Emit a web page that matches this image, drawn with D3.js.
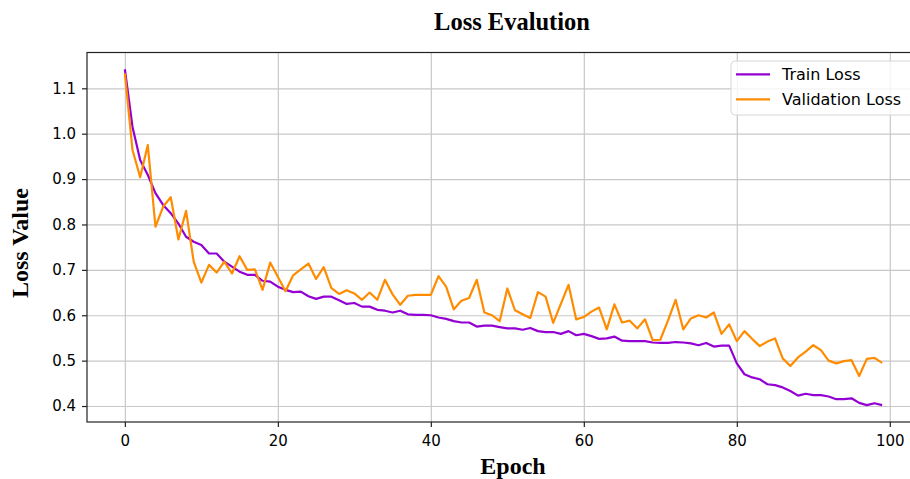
<html>
	<head>
		<title>Loss Evalution</title>
		<style>
			body { margin: 0; background: #fff; }
			svg { display: block; }
			.tick text { font-family: "DejaVu Sans", sans-serif; font-size: 15px; fill: #000; }
			.grid line { stroke: #c8c8c8; stroke-width: 1.2px; }
			.grid path { display: none; }
		</style>
	</head>
	<body>

		<svg id="chart" width="910" height="479"></svg>

		<script src="https://cdn.jsdelivr.net/npm/d3@7"></script>
		<script type="text/javascript">

			// values
			var trainLoss = [
				1.142, 1.015, 0.942, 0.909, 0.869, 0.843, 0.825, 0.802, 0.773, 0.762,
				0.755, 0.736, 0.736, 0.718, 0.707, 0.696, 0.689, 0.689, 0.676, 0.674,
				0.663, 0.656, 0.651, 0.652, 0.642, 0.636, 0.641, 0.641, 0.633, 0.625,
				0.627, 0.619, 0.619, 0.612, 0.610, 0.606, 0.610, 0.602, 0.601, 0.601,
				0.600, 0.595, 0.592, 0.587, 0.584, 0.584, 0.575, 0.577, 0.577, 0.574,
				0.571, 0.571, 0.568, 0.572, 0.565, 0.563, 0.563, 0.559, 0.565, 0.556,
				0.559, 0.554, 0.548, 0.549, 0.553, 0.544, 0.543, 0.543, 0.543, 0.540,
				0.539, 0.539, 0.541, 0.540, 0.538, 0.534, 0.539, 0.531, 0.533, 0.533,
				0.494, 0.470, 0.463, 0.459, 0.448, 0.446, 0.441, 0.433, 0.423, 0.427,
				0.424, 0.424, 0.421, 0.415, 0.415, 0.417, 0.407, 0.402, 0.406, 0.402
			];
			var valLoss = [
				1.133, 0.964, 0.904, 0.975, 0.795, 0.839, 0.860, 0.767, 0.830, 0.718,
				0.672, 0.711, 0.694, 0.718, 0.692, 0.730, 0.700, 0.701, 0.656, 0.716,
				0.685, 0.653, 0.688, 0.701, 0.714, 0.680, 0.706, 0.660, 0.647, 0.655,
				0.648, 0.634, 0.650, 0.634, 0.678, 0.646, 0.623, 0.643, 0.645, 0.645,
				0.645, 0.686, 0.663, 0.613, 0.632, 0.638, 0.678, 0.606, 0.600, 0.587,
				0.659, 0.611, 0.602, 0.594, 0.651, 0.641, 0.583, 0.625, 0.667, 0.591,
				0.596, 0.608, 0.617, 0.569, 0.624, 0.584, 0.588, 0.571, 0.591, 0.545,
				0.546, 0.588, 0.634, 0.569, 0.593, 0.600, 0.595, 0.606, 0.559, 0.580,
				0.543, 0.565, 0.548, 0.532, 0.542, 0.549, 0.505, 0.488, 0.507, 0.520,
				0.534, 0.523, 0.500, 0.494, 0.499, 0.501, 0.466, 0.504, 0.506, 0.495
			];
			var xTicks = [0, 20, 40, 60, 80, 100];
			var yTicks = [0.4, 0.5, 0.6, 0.7, 0.8, 0.9, 1.0, 1.1];
			var seriesNames = ['Train Loss', 'Validation Loss'];
			var seriesColors = ['#9400d3', '#ff8c00'];

			var plotLeft = 87, plotTop = 52.5, plotRight = 920, plotBottom = 422;

			var svg = d3.select('#chart');

			var x = d3.scaleLinear().domain([-4.95, 103.95]).range([plotLeft, plotRight]);
			var y = d3.scaleLinear().domain([0.3648, 1.1789]).range([plotBottom, plotTop]);

			// grid
			svg.append('g')
				.attr('class', 'grid')
				.attr('transform', 'translate(0,' + plotBottom + ')')
				.call(d3.axisBottom(x).tickValues(xTicks).tickSize(-(plotBottom - plotTop)).tickFormat(''));
			svg.append('g')
				.attr('class', 'grid')
				.attr('transform', 'translate(' + plotLeft + ',0)')
				.call(d3.axisLeft(y).tickValues(yTicks).tickSize(-(plotRight - plotLeft)).tickFormat(''));

			// lines
			var line = d3.line()
				.x(function(d, i) { return x(i); })
				.y(function(d) { return y(d); });

			[trainLoss, valLoss].forEach(function(s, k) {
				svg.append('path')
					.datum(s)
					.attr('fill', 'none')
					.attr('stroke', seriesColors[k])
					.attr('stroke-width', 2.2)
					.attr('stroke-linejoin', 'round')
					.attr('d', line);
			});

			// frame
			svg.append('rect')
				.attr('x', plotLeft).attr('y', plotTop)
				.attr('width', plotRight - plotLeft).attr('height', plotBottom - plotTop)
				.attr('fill', 'none').attr('stroke', '#222').attr('stroke-width', 1.2);

			// axes
			var xAxis = svg.append('g')
				.attr('transform', 'translate(0,' + plotBottom + ')')
				.call(d3.axisBottom(x).tickValues(xTicks).tickSize(5).tickPadding(8).tickFormat(d3.format('d')));
			var yAxis = svg.append('g')
				.attr('transform', 'translate(' + plotLeft + ',0)')
				.call(d3.axisLeft(y).tickValues(yTicks).tickSize(5).tickPadding(6).tickFormat(d3.format('.1f')));
			[xAxis, yAxis].forEach(function(a) {
				a.select('.domain').remove();
				a.selectAll('.tick line').attr('stroke', '#222').attr('stroke-width', 1.2);
			});

			// titles
			svg.append('text')
				.attr('x', 512).attr('y', 30)
				.attr('text-anchor', 'middle')
				.style('font-family', '"Liberation Serif", "Times New Roman", serif')
				.style('font-weight', 'bold').style('font-size', '24.5px')
				.text('Loss Evalution');
			svg.append('text')
				.attr('x', 513).attr('y', 474)
				.attr('text-anchor', 'middle')
				.style('font-family', '"Liberation Serif", "Times New Roman", serif')
				.style('font-weight', 'bold').style('font-size', '24px')
				.text('Epoch');
			svg.append('text')
				.attr('transform', 'translate(28,243) rotate(-90)')
				.attr('text-anchor', 'middle')
				.style('font-family', '"Liberation Serif", "Times New Roman", serif')
				.style('font-weight', 'bold').style('font-size', '24px')
				.text('Loss Value');

			// legend
			var legend = svg.append('g');
			legend.append('rect')
				.attr('x', 731).attr('y', 61)
				.attr('width', 184).attr('height', 54)
				.attr('rx', 4)
				.attr('fill', '#fff').attr('fill-opacity', 0.8)
				.attr('stroke', '#d6d6d6');
			seriesNames.forEach(function(name, k) {
				var ly = 74.3 + k * 25;
				legend.append('line')
					.attr('x1', 736).attr('x2', 770)
					.attr('y1', ly).attr('y2', ly)
					.attr('stroke', seriesColors[k]).attr('stroke-width', 2.2);
				legend.append('text')
					.attr('x', 782).attr('y', ly)
					.attr('dy', '0.36em')
					.style('font-family', '"DejaVu Sans", sans-serif')
					.style('font-size', '16px')
					.text(name);
			});

		</script>
	</body>
</html>
